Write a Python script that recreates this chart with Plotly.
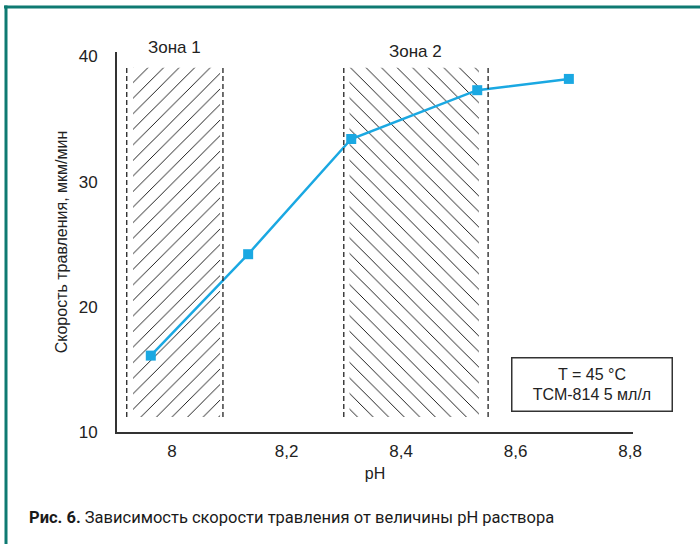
import plotly.graph_objects as go

ph = [7.963, 8.133, 8.313, 8.533, 8.693]
rate = [16.1, 24.2, 33.4, 37.3, 38.2]

x_ticks = [8.0, 8.2, 8.4, 8.6, 8.8]
x_ticklabels = ["8", "8,2", "8,4", "8,6", "8,8"]
y_ticks = [10, 20, 30, 40]

zone_names = ["Зона 1", "Зона 2"]
zone_bounds = [(7.921, 8.089), (8.300, 8.552)]
zone_hatch = [(7.932, 8.084), (8.310, 8.536)]
zone_y = (11.2, 39.1)
zone_patterns = ["/", "\\"]

caption_bold = "Рис. 6."
caption_text = "Зависимость скорости травления от величины pH раствора"
box_text = ["T = 45 °C", "ТСМ-814 5 мл/л"]

W, H = 700, 544
L, R, T, B = 117, 67, 52, 112
pw, ph_ = W - L - R, H - T - B

def px_x(p):
    return (p - L) / pw

def px_y(p):
    return (H - B - p) / ph_

fig = go.Figure()

for (a, b), pat in zip(zone_hatch, zone_patterns):
    fig.add_trace(go.Bar(
        x=[(a + b) / 2], y=[zone_y[1] - zone_y[0]], base=[zone_y[0]], width=[b - a],
        marker=dict(color="rgba(255,255,255,0)", line=dict(width=0),
                    pattern=dict(shape=pat, fgcolor="#000000", bgcolor="rgba(255,255,255,0)",
                                 fgopacity=1, size=11, solidity=0.08)),
        showlegend=False, hoverinfo="skip"))

fig.add_trace(go.Scatter(
    x=ph, y=rate, mode="lines+markers",
    line=dict(color="#1aa8e2", width=2.5),
    marker=dict(symbol="square", size=10, color="#1aa8e2"),
    showlegend=False))

shapes = []
for a, b in zone_bounds:
    for xv in (a, b):
        shapes.append(dict(type="line", xref="x", yref="y", x0=xv, x1=xv,
                           y0=zone_y[0], y1=zone_y[1],
                           line=dict(color="#222222", width=1.3, dash="5px,3px")))
# frame lines
shapes.append(dict(type="line", xref="paper", yref="paper", x0=px_x(4), x1=px_x(700),
                   y0=px_y(7), y1=px_y(7), line=dict(color="#0e7a72", width=3)))
shapes.append(dict(type="line", xref="paper", yref="paper", x0=px_x(6), x1=px_x(6),
                   y0=px_y(5.5), y1=px_y(544), line=dict(color="#0e7a72", width=3)))

annotations = []
for name, (a, b), yp in zip(zone_names, zone_bounds, [47, 51]):
    annotations.append(dict(x=(a + b) / 2, y=px_y(yp), xref="x", yref="paper", text=name,
                            showarrow=False, font=dict(size=17, color="#222222"),
                            xanchor="center", yanchor="middle"))
annotations.append(dict(x=px_x(591.5), y=px_y(384.5), xref="paper", yref="paper",
                        xanchor="center", yanchor="middle",
                        text="<br>".join(box_text), showarrow=False,
                        font=dict(size=16, color="#222222"),
                        bordercolor="#333333", borderwidth=1.5, borderpad=2,
                        width=155, height=48, bgcolor="white"))
annotations.append(dict(x=px_x(27), y=px_y(517), xref="paper", yref="paper",
                        xanchor="left", yanchor="middle", showarrow=False,
                        text="<b>" + caption_bold + "</b> " + caption_text,
                        font=dict(size=16.5, color="#1a1a1a",
                                  family="Roboto, sans-serif")))

fig.update_layout(
    width=W, height=H,
    margin=dict(l=L, r=R, t=T, b=B, autoexpand=False),
    paper_bgcolor="white", plot_bgcolor="white",
    barmode="overlay",
    font=dict(family="Liberation Sans, Arial, sans-serif", color="#222222", size=16),
    shapes=shapes, annotations=annotations,
    xaxis=dict(range=[7.904, 8.805], tickvals=x_ticks, ticktext=x_ticklabels,
               showgrid=False, zeroline=False, showline=True, linecolor="#333333",
               linewidth=2, ticks="", ticklabelstandoff=3, automargin=False,
               tickfont=dict(size=17),
               title=dict(text="pH", font=dict(size=16), standoff=7)),
    yaxis=dict(range=[10, 40.35], tickvals=y_ticks, showgrid=False, zeroline=False,
               showline=True, linecolor="#333333", linewidth=2, ticks="",
               ticklabelstandoff=14, automargin=False, tickfont=dict(size=17),
               title=dict(text="Скорость травления, мкм/мин", font=dict(size=16), standoff=7)),
)

fig.write_html("out.html", config={"displayModeBar": False},
               post_script="document.body.style.margin='0px';")
